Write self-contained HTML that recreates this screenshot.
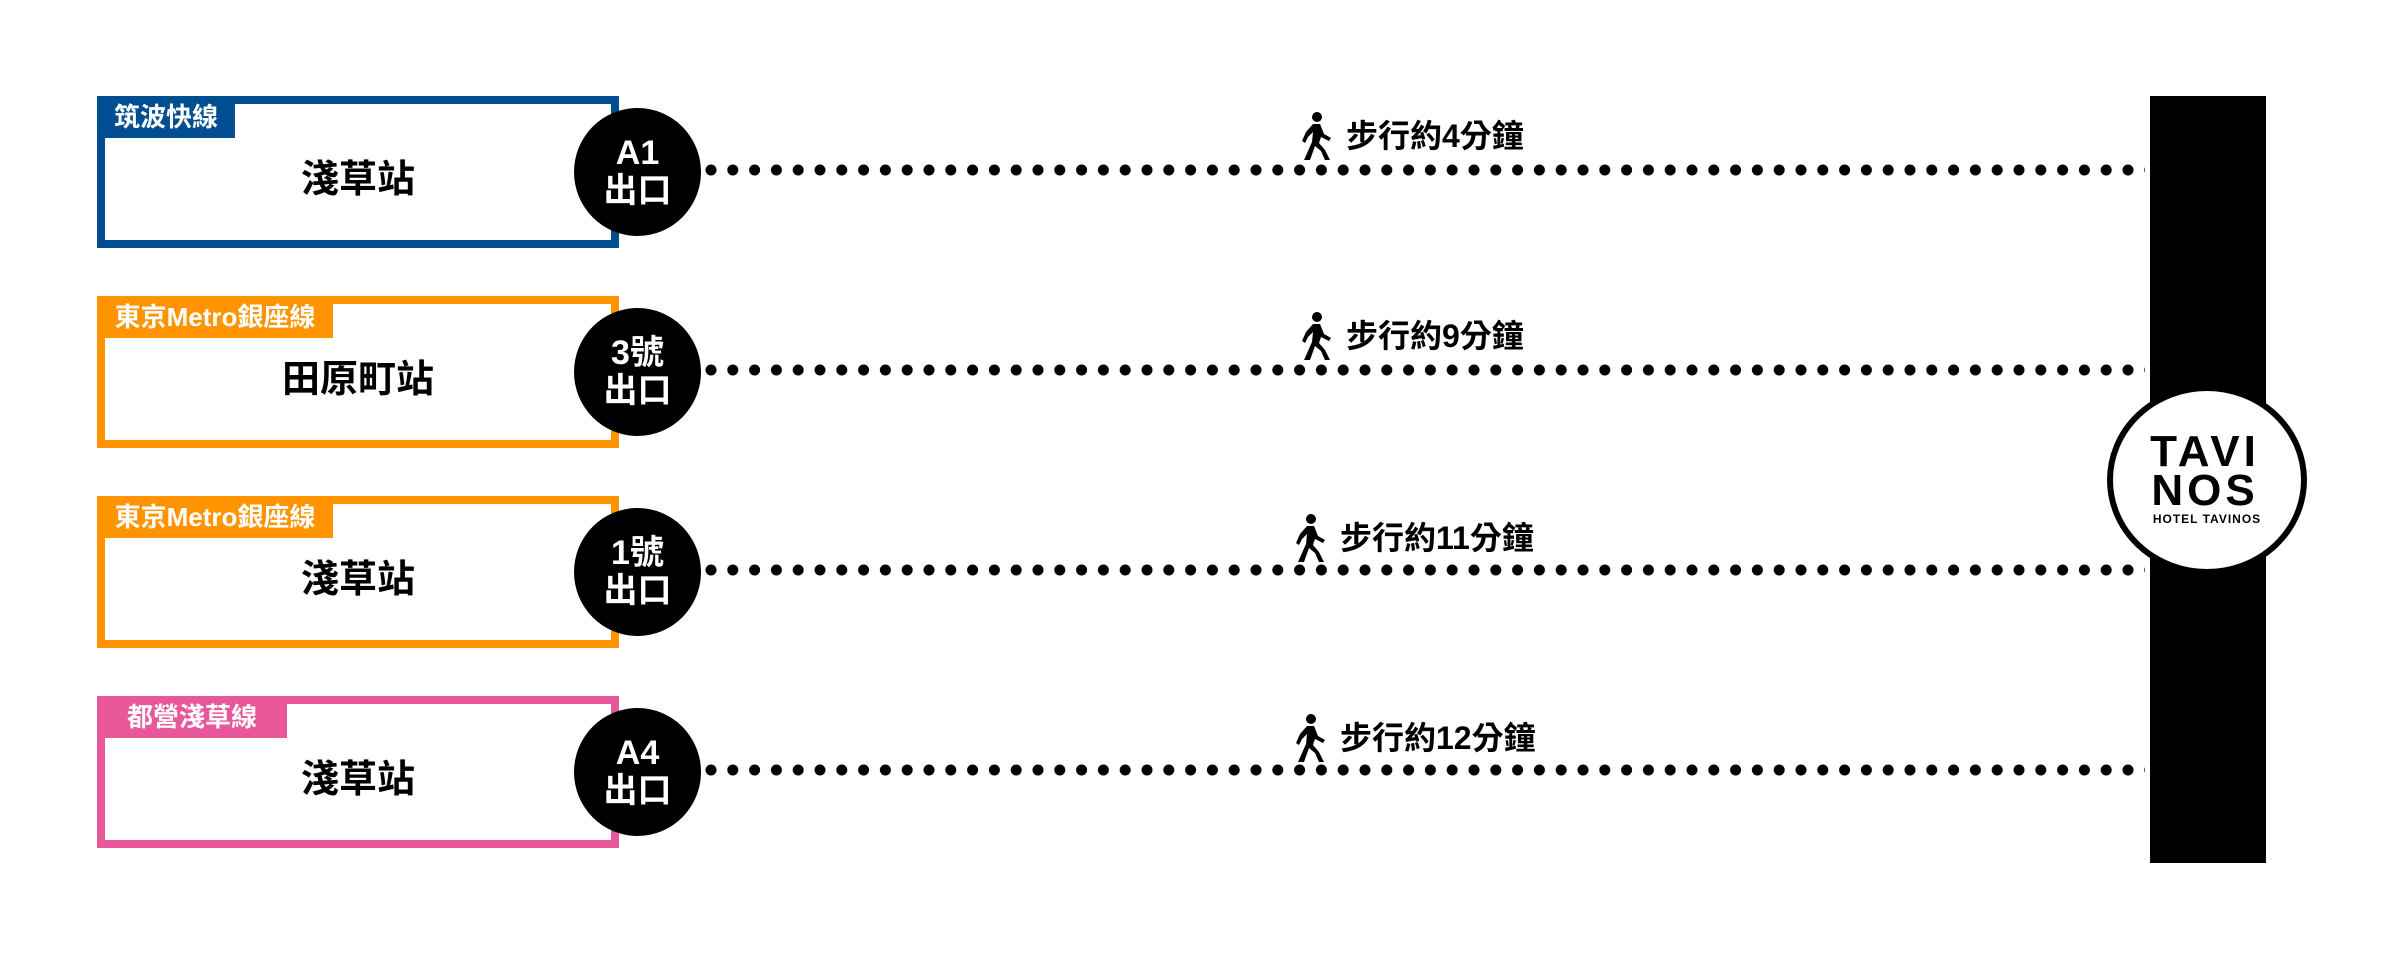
<!DOCTYPE html>
<html><head><meta charset="utf-8"><style>
body{margin:0;width:2400px;height:956px;background:#fff;position:relative;overflow:hidden;font-family:"Liberation Sans","Noto Sans CJK TC",sans-serif;font-weight:bold}
.box{position:absolute;left:97px;width:506px;height:136px;border:8px solid;background:#fff}
.tab{position:absolute;left:-8px;top:-8px;height:42px;color:#fff;font-size:26px;line-height:42px;text-align:center;white-space:nowrap}
.name{position:absolute;left:0;right:0;top:46px;text-align:center;font-size:38px;line-height:60px;color:#000}
.circ{position:absolute;left:574px;width:127px;height:128px;border-radius:50%;background:#000;color:#fff;text-align:center;font-size:34px;line-height:38px;display:flex;flex-direction:column;justify-content:center}
.walk{position:absolute;font-size:32px;line-height:40px;color:#000;white-space:nowrap;display:flex;align-items:center}
.walk svg{margin-right:14px}
</style></head><body>
<svg width="2400" height="956" style="position:absolute;left:0;top:0">
<defs><pattern id="d" x="705.5" y="0" width="21.8" height="20" patternUnits="userSpaceOnUse"><circle cx="5.5" cy="10" r="5.5" fill="#000"/></pattern></defs>
<rect x="705" y="163" width="1440" height="20" fill="url(#d)"/>
<rect x="705" y="363" width="1440" height="20" fill="url(#d)"/>
<rect x="705" y="563" width="1440" height="20" fill="url(#d)"/>
<rect x="705" y="763" width="1440" height="20" fill="url(#d)"/>
<rect x="2150" y="96" width="116" height="767" fill="#000"/>
<ellipse cx="2207" cy="480" rx="97" ry="92" fill="#fff" stroke="#000" stroke-width="6"/>
<text x="2205" y="466" text-anchor="middle" font-family="Liberation Sans" font-size="44" font-weight="bold" letter-spacing="4">TAVI</text>
<text x="2205" y="505" text-anchor="middle" font-family="Liberation Sans" font-size="44" font-weight="bold" letter-spacing="4">NOS</text>
<text x="2207" y="523" text-anchor="middle" font-family="Liberation Sans" font-size="12" letter-spacing="1">HOTEL TAVINOS</text>
</svg>

<div class="box" style="top:96px;border-color:#004e92"><div class="tab" style="background:#004e92;width:138px">筑波快線</div><div class="name">淺草站</div></div>
<div class="box" style="top:296px;border-color:#ff9300"><div class="tab" style="background:#ff9300;width:236px">東京Metro銀座線</div><div class="name">田原町站</div></div>
<div class="box" style="top:496px;border-color:#ff9300"><div class="tab" style="background:#ff9300;width:236px">東京Metro銀座線</div><div class="name">淺草站</div></div>
<div class="box" style="top:696px;border-color:#e8579a"><div class="tab" style="background:#e8579a;width:190px">都營淺草線</div><div class="name">淺草站</div></div>

<div class="circ" style="top:108px"><div>A1</div><div>出口</div></div>
<div class="circ" style="top:308px"><div>3號</div><div>出口</div></div>
<div class="circ" style="top:508px"><div>1號</div><div>出口</div></div>
<div class="circ" style="top:708px"><div>A4</div><div>出口</div></div>

<svg width="0" height="0" style="position:absolute"><defs><g id="man"><circle cx="17" cy="5" r="5"/><path d="M13 12 L20 12 L24 22 L31 26 L29 29 L21 25 L19 31 L25 38 L30 48 L25 48 L21 39 L15 34 L10 48 L4 48 L12 30 L13 20 L8 25 L5 31 L2 29 L6 20 Z"/></g></defs></svg>
<div class="walk" style="left:1300px;top:112px"><svg width="32" height="48" viewBox="0 0 32 48"><use href="#man"/></svg>步行約4分鐘</div>
<div class="walk" style="left:1300px;top:312px"><svg width="32" height="48" viewBox="0 0 32 48"><use href="#man"/></svg>步行約9分鐘</div>
<div class="walk" style="left:1294px;top:514px"><svg width="32" height="48" viewBox="0 0 32 48"><use href="#man"/></svg>步行約11分鐘</div>
<div class="walk" style="left:1294px;top:714px"><svg width="32" height="48" viewBox="0 0 32 48"><use href="#man"/></svg>步行約12分鐘</div>
</body></html>
